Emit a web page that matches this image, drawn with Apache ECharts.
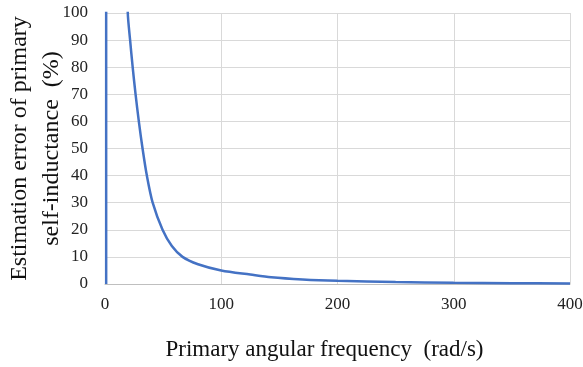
<!DOCTYPE html>
<html>
<head>
<meta charset="utf-8">
<script src="https://cdn.jsdelivr.net/npm/echarts@6/dist/echarts.min.js"></script>
<style>
  html, body { margin: 0; padding: 0; background: #fff; }
  #chart { width: 583px; height: 367px; }
</style>
</head>
<body>
<div id="chart"></div>
<script>
// values: [angular frequency, error %]
const freq = [1, 1.2, 10, 15, 19.6, 21.6, 23.8, 26.3, 29.1, 32.3, 36, 41, 49.5, 57.5, 66.7, 80, 100, 125, 143, 170, 200, 250, 300, 350, 400];
const error = [0, 5000, 500, 175, 100, 90, 80, 70, 60, 50, 40, 30, 20, 14, 10, 7.3, 5, 3.5, 2.5, 1.7, 1.2, 0.75, 0.45, 0.3, 0.2];
const xTicks = [0, 100, 200, 300, 400];
const yTicks = [0, 10, 20, 30, 40, 50, 60, 70, 80, 90, 100];

const font = '"Liberation Serif", "DejaVu Serif", serif';
const myChart = echarts.init(document.getElementById('chart'));

myChart.setOption({
  animation: false,
  grid: { left: 105, right: 13, top: 13, bottom: 83, outerBoundsMode: 'none' },
  xAxis: {
    type: 'value',
    min: xTicks[0],
    max: xTicks[xTicks.length - 1],
    interval: 100,
    name: 'Primary angular frequency  (rad/s)',
    nameLocation: 'middle',
    nameGap: 54,
    nameMoveOverlap: false,
    nameTextStyle: { fontFamily: font, fontSize: 23, color: '#111', padding: [0, 26, 0, 0] },
    axisLine: { lineStyle: { color: '#bfbfbf', width: 1 } },
    axisTick: { show: false },
    axisLabel: { fontFamily: font, fontSize: 17, color: '#222', margin: 12 },
    splitLine: { show: true, lineStyle: { color: '#d9d9d9' } }
  },
  yAxis: {
    type: 'value',
    min: yTicks[0],
    max: yTicks[yTicks.length - 1],
    interval: 10,
    name: 'Estimation error of primary\nself-inductance  (%)',
    nameLocation: 'middle',
    nameGap: 37,
    nameRotate: 90,
    nameMoveOverlap: false,
    nameTextStyle: { fontFamily: font, fontSize: 24, color: '#111', lineHeight: 32 },
    axisLine: { show: false },
    axisTick: { show: false },
    axisLabel: { fontFamily: font, fontSize: 17, color: '#222', margin: 17 },
    splitLine: { lineStyle: { color: '#d9d9d9' } }
  },
  series: [
    {
      type: 'line',
      data: freq.map((f, i) => [f, error[i]]),
      smooth: 0.3,
      showSymbol: false,
      clip: true,
      lineStyle: { color: '#4472c4', width: 2.5 }
    }
  ]
});
</script>
</body>
</html>
